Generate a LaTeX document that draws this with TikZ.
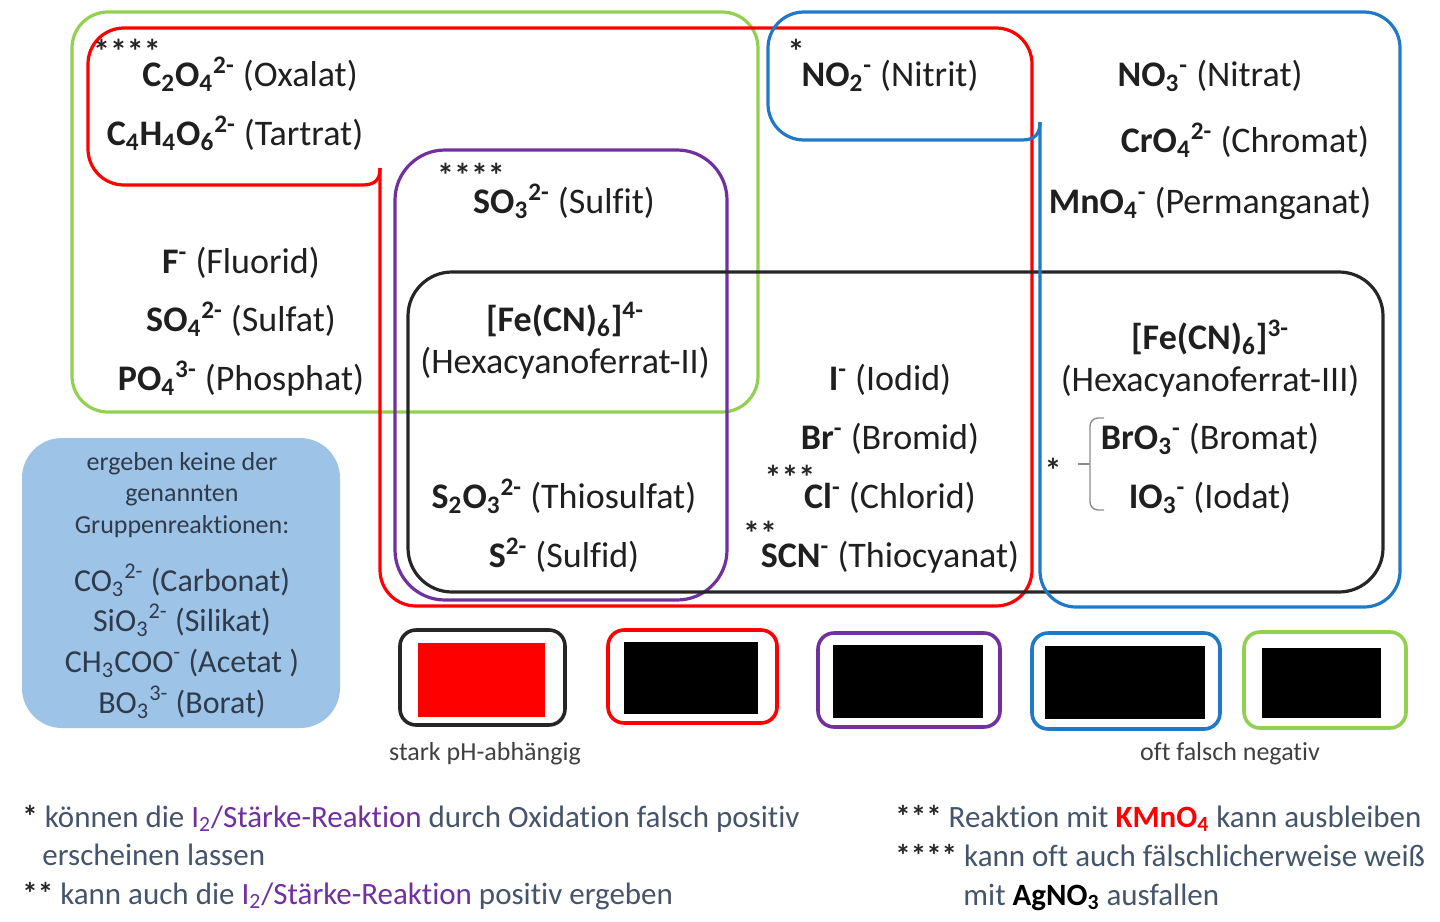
\documentclass[tikz,border=0pt]{standalone}
\usepackage{fontspec}
\setmainfont{Carlito}[Ligatures=NoCommon]
\usetikzlibrary{positioning}
\definecolor{grpred}{HTML}{FF0000}
\definecolor{grpgreen}{HTML}{92D050}
\definecolor{grpblue}{HTML}{1F78C8}
\definecolor{grppurple}{HTML}{7030A0}
\definecolor{boxfill}{HTML}{9DC3E6}
\definecolor{boxtext}{HTML}{2F3B4C}
\definecolor{notetext}{HTML}{44546A}
\newcommand{\idx}[1]{\textsubscript{#1}}
\newcommand{\chg}[1]{\textsuperscript{#1}}
\tikzset{
    grp/.style = {line width=1.6pt, rounded corners=18pt},
    notch/.style = {line width=1.6pt},
    legend/.style = {line width=1.8pt, rounded corners=8pt},
}
\begin{document}
\begin{tikzpicture}[x=0.5pt, y=-0.5pt,
    ion/.style = {font=\fontsize{18}{21}\selectfont, text=black!88, anchor=base, inner sep=0pt},
    boxion/.style = {font=\fontsize{16}{19}\selectfont, text=boxtext, anchor=base, inner sep=0pt},
    small/.style = {font=\fontsize{13}{15}\selectfont, text=black!75, anchor=base, inner sep=0pt},
    stars/.style = {font=\bfseries\fontsize{17}{17}\selectfont, text=black!85, anchor=base, inner sep=0pt},
    note/.style = {font=\fontsize{15.5}{18}\selectfont, text=notetext, anchor=base west, inner sep=0pt},
]
\useasboundingbox (0,0) rectangle (1440,921);

% groups
\draw[grp, grpgreen] (72,12) rectangle (758,412);
\draw[grp, grpred] (362,185) -- (88,185) -- (88,28) -- (1032,28) -- (1032,606) -- (380,606) -- (380,168);
\draw[notch, grpred] (362,185) .. controls (375,185) and (380,180) .. (380,168);
\draw[grp, grppurple, rounded corners=25pt] (395,150) rectangle (727,600);
\draw[grp, black!85, rounded corners=22pt] (408,272) rectangle (1383,592);
\draw[grp, grpblue] (1022,140) -- (768,140) -- (768,12) -- (1400,12) -- (1400,607) -- (1040,607) -- (1040,122);
\draw[notch, grpblue] (1022,140) .. controls (1035,140) and (1040,134) .. (1040,122);
\fill[boxfill, rounded corners=20pt] (22,438) rectangle (340,728);

% legend
\draw[legend, black!85] (400,630) rectangle (565,725);
\fill[grpred] (418,643) rectangle (545,717);
\draw[legend, grpred] (608,630) rectangle (777,723);
\fill[black] (624,642) rectangle (758,714);
\draw[legend, grppurple] (818,633) rectangle (1000,727);
\fill[black] (833,645) rectangle (983,718);
\draw[legend, grpblue] (1032,633) rectangle (1220,729);
\fill[black] (1045,646) rectangle (1205,719);
\draw[legend, grpgreen] (1244,632) rectangle (1406,728);
\fill[black] (1262,648) rectangle (1381,718);
\node[small] (phdep) at (485,760) {stark pH-abhängig};
\node[small] (falseneg) at (1230,760) {oft falsch negativ};

% green / red
\node[stars] (oxstar) at (127,63) {****};
\node[ion] (oxalat) at (250,86) {{\bfseries C\idx{2}O\idx{4}\chg{2-}} (Oxalat)};
\node[ion] (tartrat) at (235,145) {{\bfseries C\idx{4}H\idx{4}O\idx{6}\chg{2-}} (Tartrat)};
\node[ion] (fluorid) at (241,273) {{\bfseries F\chg{-}} (Fluorid)};
\node[ion] (sulfat) at (241,331) {{\bfseries SO\idx{4}\chg{2-}} (Sulfat)};
\node[ion] (phosphat) at (241,390) {{\bfseries PO\idx{4}\chg{3-}} (Phosphat)};

% purple
\node[stars] (sulstar) at (471,187) {****};
\node[ion] (sulfit) at (564,213) {{\bfseries SO\idx{3}\chg{2-}} (Sulfit)};
\node[ion] (fecn4) at (565,331) {\bfseries [Fe(CN)\idx{6}]\chg{4-}};
\node[ion] (hexa2) at (565,373) {(Hexacyanoferrat-II)};
\node[ion] (thiosulfat) at (564,508) {{\bfseries S\idx{2}O\idx{3}\chg{2-}} (Thiosulfat)};
\node[ion] (sulfid) at (564,567) {{\bfseries S\chg{2-}} (Sulfid)};

% red / black
\node[stars] (nitstar) at (796,63) {*};
\node[ion] (nitrit) at (890,86) {{\bfseries NO\idx{2}\chg{-}} (Nitrit)};
\node[ion] (iodid) at (890,390) {{\bfseries I\chg{-}} (Iodid)};
\node[ion] (bromid) at (890,449) {{\bfseries Br\chg{-}} (Bromid)};
\node[stars] (clstar) at (790,489) {***};
\node[ion] (chlorid) at (890,508) {{\bfseries Cl\chg{-}} (Chlorid)};
\node[stars] (scnstar) at (760,545) {**};
\node[ion] (scn) at (890,567) {{\bfseries SCN\chg{-}} (Thiocyanat)};

% blue
\node[ion] (nitrat) at (1210,86) {{\bfseries NO\idx{3}\chg{-}} (Nitrat)};
\node[ion] (chromat) at (1245,152) {{\bfseries CrO\idx{4}\chg{2-}} (Chromat)};
\node[ion] (permanganat) at (1210,213) {{\bfseries MnO\idx{4}\chg{-}} (Permanganat)};
\node[ion] (fecn3) at (1210,349) {\bfseries [Fe(CN)\idx{6}]\chg{3-}};
\node[ion] (hexa3) at (1210,391) {(Hexacyanoferrat-III)};
\node[ion] (bromat) at (1210,449) {{\bfseries BrO\idx{3}\chg{-}} (Bromat)};
\node[ion] (iodat) at (1210,508) {{\bfseries IO\idx{3}\chg{-}} (Iodat)};
\node[stars] (brstar) at (1053,482) {*};
\coordinate (brmid) at (1090,464);
\draw[black!45, line width=0.7pt, rounded corners=4pt] (1104,418) -- (1090,418) -- (1090,510) -- (1104,510);
\draw[black!45, line width=0.7pt] ([xshift=8pt]brstar.east |- brmid) -- (brmid);

% no group reaction
\node[small, text=boxtext] (nogrp1) at (182,470) {ergeben keine der};
\node[small, text=boxtext] (nogrp2) at (182,501) {genannten};
\node[small, text=boxtext] (nogrp3) at (182,533) {Gruppenreaktionen:};
\node[boxion] (carbonat) at (182,591) {CO\idx{3}\chg{2-} (Carbonat)};
\node[boxion] (silikat) at (182,631) {SiO\idx{3}\chg{2-} (Silikat)};
\node[boxion] (acetat) at (182,672) {CH\idx{3}COO\chg{-} (Acetat )};
\node[boxion] (borat) at (182,713) {BO\idx{3}\chg{3-} (Borat)};

% footnotes
\node[note] (note1) at (22,827) {{\color{black!85}\bfseries *} können die {\color{grppurple}I\idx{2}/Stärke-Reaktion} durch Oxidation falsch positiv};
\node[note] (note1b) at (42,865) {erscheinen lassen};
\node[note] (note2) at (22,904) {{\color{black!85}\bfseries **} kann auch die {\color{grppurple}I\idx{2}/Stärke-Reaktion} positiv ergeben};
\node[note] (note3) at (895,827) {{\color{black!85}\bfseries ***} Reaktion mit {\color{grpred}\bfseries KMnO\idx{4}} kann ausbleiben};
\node[note] (note4) at (895,866) {{\color{black!85}\bfseries ****} kann oft auch fälschlicherweise weiß};
\node[note] (note4b) at (963,905) {mit {\color{black}\bfseries AgNO\idx{3}} ausfallen};
\end{tikzpicture}
\end{document}
